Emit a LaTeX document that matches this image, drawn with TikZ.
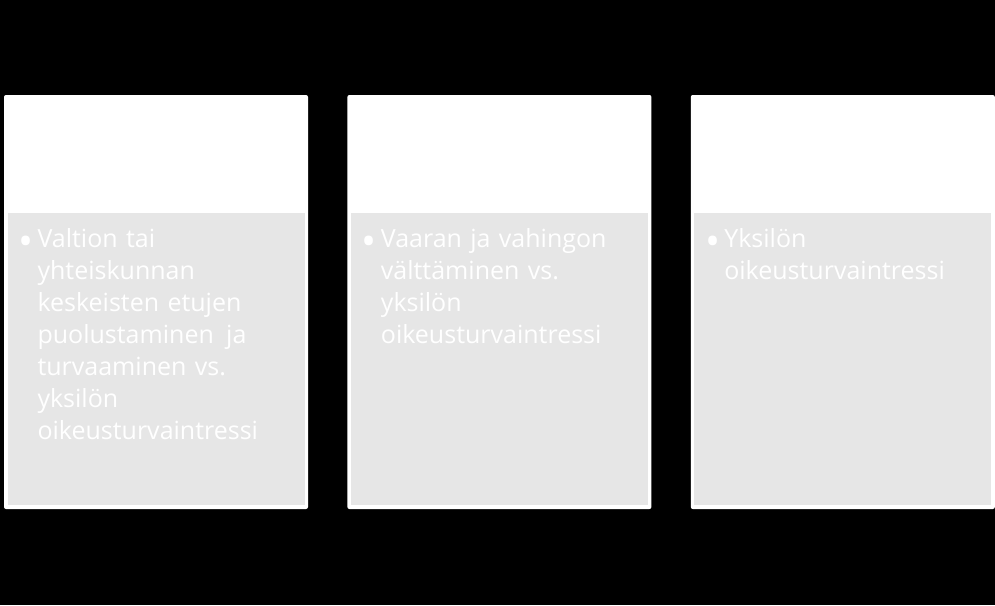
\documentclass[tikz,border=0pt]{standalone}
\usepackage{fontspec}
\setmainfont{Open Sans}
\usetikzlibrary{positioning}
\definecolor{panelgray}{RGB}{230,230,230}
\newcommand{\bul}{\strut\llap{\raisebox{-8pt}{\fontsize{40}{40}\selectfont•}\hspace{4pt}}}
\tikzset{
  card/.style={fill=white, rounded corners=2pt, minimum width=304pt, minimum height=414pt, inner sep=0pt},
  panel/.style={fill=panelgray, minimum width=297pt, minimum height=292pt, inner sep=0pt},
  txt/.style={text=white, text width=265pt, align=left, inner sep=0pt, font=\fontsize{25}{32}\selectfont}
}
\begin{document}
\begin{tikzpicture}[x=1pt,y=-1pt]
  \fill[black] (0,0) rectangle (995,605);
  \useasboundingbox (0,0) rectangle (995,605);
  % kortit
  \node[card] (valtio) at (156,302) {};
  \node[card, right=39pt of valtio] (vaara) {};
  \node[card, right=39pt of vaara] (yksilo) {};
  % harmaat paneelit
  \node[panel, anchor=south] (valtiop) at ([yshift=4pt]valtio.south) {};
  \node[panel, anchor=south] (vaarap) at ([yshift=4pt]vaara.south) {};
  \node[panel, anchor=south] (yksilop) at ([yshift=4pt]yksilo.south) {};
  % tekstit
  \node[txt, anchor=north west] (valtiot) at ([xshift=30pt,yshift=-12pt]valtiop.north west)
    {\bul Valtion tai\\ yhteiskunnan\\ keskeisten etujen\\ puolustaminen\hspace{4pt} ja\\ turvaaminen vs.\\ yksilön\\ oikeusturvaintressi};
  \node[txt, anchor=north west] (vaarat) at ([xshift=30pt,yshift=-12pt]vaarap.north west)
    {\bul Vaaran ja vahingon\\ välttäminen vs.\\ yksilön\\ oikeusturvaintressi};
  \node[txt, anchor=north west] (yksilot) at ([xshift=30pt,yshift=-12pt]yksilop.north west)
    {\bul Yksilön\\ oikeusturvaintressi};
\end{tikzpicture}
\end{document}
